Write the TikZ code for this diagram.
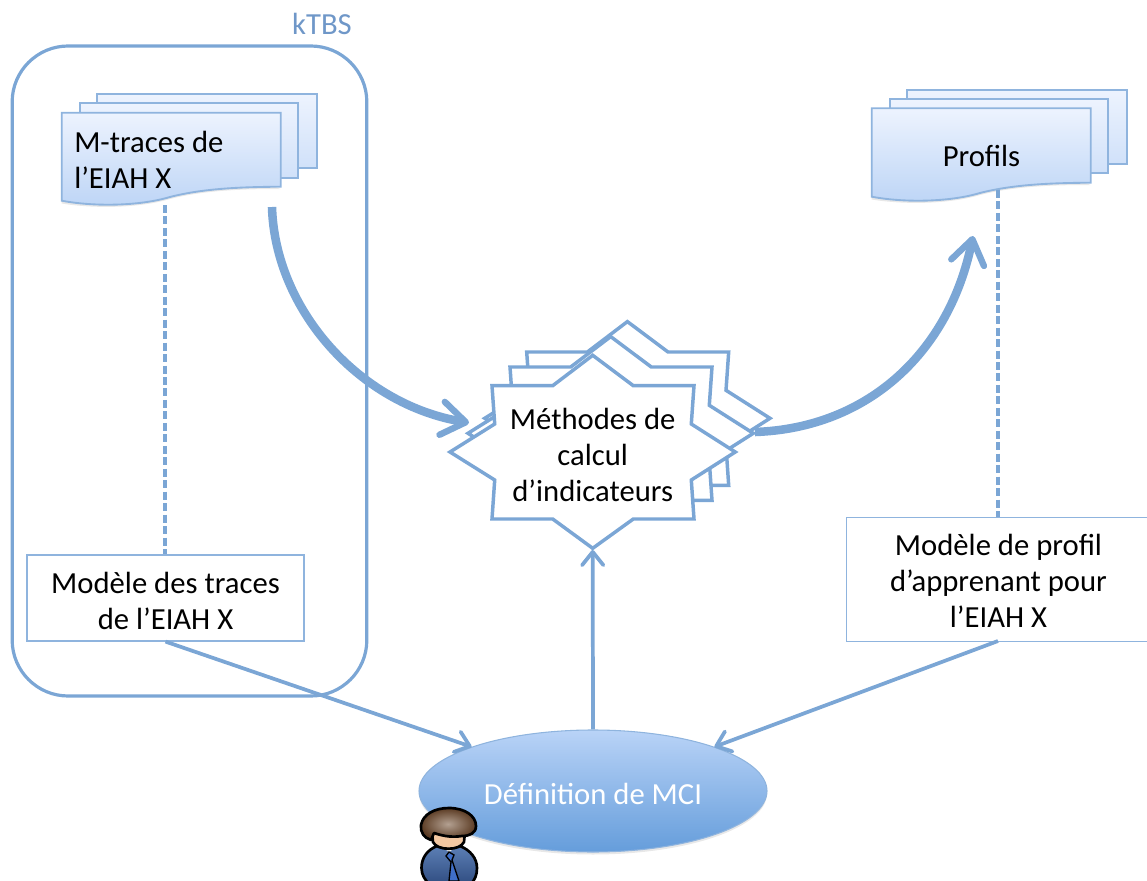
\documentclass[tikz,border=0pt]{standalone}
\usepackage{fontspec}
\setmainfont{Carlito}
\usetikzlibrary{arrows.meta,shapes.geometric,calc}
\definecolor{lineblue}{HTML}{7BA6D5}
\definecolor{edgeblue}{HTML}{8FB4DE}
\definecolor{ktbsblue}{HTML}{6F97C8}
\definecolor{doctop}{HTML}{EDF3FE}
\definecolor{docbot}{HTML}{BDD5F6}
\definecolor{elltop}{HTML}{B9D3F7}
\definecolor{ellbot}{HTML}{659DDB}
\definecolor{suitlight}{HTML}{5C7FB5}
\definecolor{suitdark}{HTML}{2F4C80}
\definecolor{tieblue}{HTML}{3F6FC8}
\definecolor{skin}{HTML}{F3C8A2}
\definecolor{hairlight}{HTML}{B3A091}
\definecolor{hairdark}{HTML}{5A3A22}
\tikzset{
  x=0.75pt,y=-0.75pt,
  txt/.style={font=\fontsize{23}{27}\selectfont,align=center,text=black,inner sep=0pt},
  docback/.style={draw=edgeblue,line width=1.4pt,top color=doctop,bottom color=docbot!60!doctop},
  docfront/.style={draw=edgeblue,line width=1.4pt,top color=doctop,bottom color=docbot},
  softshadow/.style={fill=black,opacity=0.09,draw=none},
  starshape/.style={draw=lineblue,line width=2.6pt,fill=white,line join=miter},
  modelbox/.style={draw=edgeblue,line width=0.9pt,fill=white,inner sep=0pt,font=\fontsize{23}{27}\selectfont,align=center},
  thinarrow/.style={draw=lineblue,line width=2.8pt,-{Straight Barb[length=10pt,width=16pt,line width=2.8pt,round]}},
  thickarrow/.style={draw=lineblue,line width=6.4pt,-{Straight Barb[length=18pt,width=25pt,line width=4.8pt,round]}},
  dashconn/.style={draw=lineblue,line width=3pt,dash pattern=on 6pt off 2.6pt},
  outlined/.style={draw=black,line width=2pt,line join=round}
}
\newcommand{\starpath}{(592.7,355.3) -- (552.7,385.7) -- (492,385.7) -- (494.7,424) -- (450,452) -- (494.7,480) -- (492,519) -- (552.7,519) -- (592.7,548.3) -- (633.3,519) -- (694,519) -- (691.3,480) -- (735.3,452) -- (691.3,424) -- (694,385.7) -- (633.3,385.7) -- cycle}
\begin{document}
\begin{tikzpicture}
\useasboundingbox (0,0) rectangle (1147,881);
% kTBS container
\node[draw=lineblue,line width=2.4pt,rounded corners=42pt,minimum width=266pt,minimum height=487.5pt,inner sep=0pt] (ktbs) at (189.5,371) {};
\node[font=\fontsize{23}{24}\selectfont,text=ktbsblue,inner sep=0pt] (ktbslabel) at (322,24) {kTBS};

% M-traces stack
\path[docback] (96.7,94) rectangle (316.7,168.3);
\path[docback] (80,103) rectangle (297.6,177.7);
\fill[softshadow] (61.7,115) -- (61.7,203.5) .. controls (95,209) and (140,208) .. (170,199) .. controls (205,190) and (245,189) .. (280.7,189) -- cycle;
\path[docfront] (61.7,112.7) -- (280.7,112.7) -- (280.7,186.7) .. controls (245,187) and (205,188) .. (170,197) .. controls (140,206) and (95,207) .. (61.7,200.7) -- cycle;
\node[txt,align=left,anchor=west] (mtraces) at (74,160) {M-traces de\\l’EIAH X};
\coordinate (mtbottom) at (165,205);
\coordinate (mtout) at (272,207);

% Profils stack
\path[docback] (906.7,89.7) rectangle (1126.7,164);
\path[docback] (889.7,99) rectangle (1107.7,173);
\fill[softshadow] (871.7,110) -- (871.7,199.5) .. controls (905,205) and (950,204) .. (980,195) .. controls (1015,186) and (1055,185) .. (1090.7,185) -- cycle;
\path[docfront] (871.7,108.3) -- (1090.7,108.3) -- (1090.7,182.7) .. controls (1055,183) and (1015,184) .. (980,193) .. controls (950,202) and (905,203) .. (871.7,196.7) -- cycle;
\node[txt] (profils) at (981.5,156) {Profils};
\coordinate (pfbottom) at (998,190);
\coordinate (pfin) at (973,236);

% Star stack
\begin{scope}[shift={(34.7,-33.7)}]\path[starshape] \starpath;\end{scope}
\begin{scope}[shift={(18,-18.7)}]\path[starshape] \starpath;\end{scope}
\path[starshape] \starpath;
\node[txt] (methodes) at (592.7,454.5) {Méthodes de\\calcul\\d’indicateurs};
\coordinate (stbottom) at (592.7,550);
\coordinate (stleft) at (469,422.7);
\coordinate (stright) at (755,432);

% Model boxes
\node[modelbox,minimum width=207.75pt,minimum height=64.5pt] (modeltraces) at (165.5,598) {};
\node[txt] (modeltracestext) at (165.5,600.5) {Modèle des traces\\de l’EIAH X};
\node[modelbox,minimum width=225.75pt,minimum height=93pt,anchor=north west] (modelprofil) at (846,517) {};
\node[txt] (modelprofiltext) at (998.5,581) {Modèle de profil\\d’apprenant pour\\l’EIAH X};
\coordinate (mpsouth) at (998,641);
\coordinate (mpnorth) at (998,517);

% Ellipse
\fill[black,opacity=0.09] (593,793.5) ellipse [x radius=174,y radius=61];
\node[ellipse,draw=edgeblue,line width=0.8pt,top color=elltop,bottom color=ellbot,minimum width=261pt,minimum height=91.5pt,inner sep=0pt] (mci) at (593,791) {};
\node[inner sep=0pt,text=white,font=\fontsize{23}{24}\selectfont] (mcitext) at (593,793.5) {Définition de MCI};

% Connectors
\draw[dashconn] (mtbottom) -- (modeltraces.north -| mtbottom);
\draw[dashconn,line width=2.6pt] (pfbottom) -- (mpnorth);
\draw[thinarrow] (modeltraces.south) -- (mci.160);
\draw[thinarrow] (mpsouth) -- (mci.20);
\draw[thinarrow] (mci.north) -- (stbottom);
\draw[thickarrow] (mtout) .. controls (275,310) and (360,405) .. (stleft);
\draw[thickarrow] (stright) .. controls (870,428) and (950,350) .. (pfin);

% Person
\begin{scope}
\clip (400,800) rectangle (500,881);
\path[outlined,top color=suitlight,bottom color=suitdark] (437,846) .. controls (427,850) and (421.5,858) .. (421.5,868) .. controls (421.5,875) and (425,880) .. (430,885) -- (470,885) .. controls (475,880) and (477,875) .. (477,868) .. controls (477,858) and (470,850) .. (460,846) -- cycle;
\fill[white!85!gray] (449,852) -- (441,846) -- (458,846) -- cycle;
\path[draw=black,line width=1pt,fill=tieblue] (449,852) -- (454,855) -- (452,860) -- (459,881) -- (449,881) -- (451,862) -- (446,856) -- cycle;
\path[outlined,fill=skin] (432,832) -- (465,832) -- (464,842) .. controls (460,851) and (437,851) .. (433,842) -- cycle;
\path[outlined,inner color=hairlight,outer color=hairdark] (431,840) .. controls (424,838) and (420,832) .. (421,825) .. controls (423,814) and (435,808) .. (449,808) .. controls (465,808) and (476,816) .. (476,826) .. controls (476,833) and (470,836) .. (462,836) .. controls (450,838) and (440,835) .. (434,833) -- cycle;
\end{scope}
\end{tikzpicture}
\end{document}
